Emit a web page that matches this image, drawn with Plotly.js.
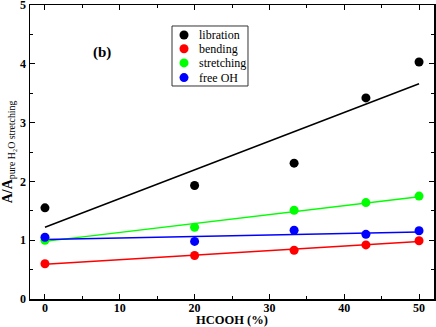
<!DOCTYPE html>
<html>
<head>
<meta charset="utf-8">
<script src="https://cdn.plot.ly/plotly-3.0.1.min.js"></script>
<style>
  body { margin: 0; background: #fff; }
  #chart { width: 436px; height: 327px; }
</style>
</head>
<body>
<div id="chart"></div>
<script>
// HCOOH concentration (%)
var hcooh = [0, 20, 33.3, 42.9, 50];

// Relative areas
var libration = [1.55, 1.93, 2.31, 3.42, 4.03];
var bending = [0.60, 0.74, 0.83, 0.92, 0.99];
var stretching = [1.00, 1.22, 1.51, 1.64, 1.75];
var freeOH = [1.05, 0.98, 1.17, 1.10, 1.16];

// Linear fit lines, values at x = 0 and x = 50
var fitX = [0, 50];
var librationFit = [1.22, 3.66];
var bendingFit = [0.59, 0.98];
var stretchingFit = [0.98, 1.74];
var freeOHFit = [1.01, 1.14];

var names = ["libration", "bending", "stretching", "free OH"];
var colors = ["#000000", "#ff0000", "#00ff00", "#0000ff"];
var series = [libration, bending, stretching, freeOH];
var fits = [librationFit, bendingFit, stretchingFit, freeOHFit];

var data = [];
// fit lines first so the dots sit on top
fits.forEach(function (f, i) {
  data.push({
    x: fitX, y: f, type: "scatter", mode: "lines",
    line: {color: colors[i], width: 1.5},
    showlegend: false, hoverinfo: "skip"
  });
});
series.forEach(function (s, i) {
  data.push({
    x: hcooh, y: s, type: "scatter", mode: "markers", name: names[i],
    marker: {color: colors[i], size: 9},
    showlegend: false
  });
});

var serif = "Liberation Serif";

// legend drawn by hand so the rows can be packed as tight as the original
var shapes = [{
  type: "rect", xref: "paper", yref: "paper",
  x0: 0.3515, x1: 0.5396, y0: 0.7245, y1: 0.9286,
  line: {color: "#333", width: 1}, fillcolor: "#fff", layer: "above"
}];
var annotations = [{
  x: 0.178, y: 0.837, xref: "paper", yref: "paper",
  xanchor: "center", yanchor: "middle",
  text: "<b>(b)</b>", showarrow: false,
  font: {family: serif, size: 15, color: "#000"}
}];
var rowY = [0.898, 0.851, 0.803, 0.753];
names.forEach(function (n, i) {
  shapes.push({
    type: "circle", xref: "paper", yref: "paper",
    xsizemode: "pixel", ysizemode: "pixel",
    xanchor: 0.3812, yanchor: rowY[i],
    x0: -4.5, x1: 4.5, y0: -4.5, y1: 4.5,
    fillcolor: colors[i], line: {color: colors[i], width: 0}, layer: "above"
  });
  annotations.push({
    x: 0.413, y: rowY[i], xref: "paper", yref: "paper",
    xanchor: "left", yanchor: "middle", showarrow: false,
    text: n, font: {family: serif, size: 12, color: "#000"}
  });
});

var layout = {
  width: 436, height: 327,
  margin: {l: 30, r: 2, t: 5, b: 28},
  paper_bgcolor: "#fff", plot_bgcolor: "#fff",
  font: {family: serif, color: "#000"},
  showlegend: false,
  xaxis: {
    range: [-2, 52], dtick: 10, tick0: 0,
    ticks: "inside", ticklen: 5, tickcolor: "#000",
    minor: {dtick: 5, ticks: "inside", ticklen: 3, tickcolor: "#000"},
    showline: true, linecolor: "#000", linewidth: 1.5, mirror: "ticks",
    showgrid: false, zeroline: false, ticklabeloverflow: "allow",
    ticklabelstandoff: -3,
    tickfont: {family: serif, size: 12, color: "#000", weight: "bold"},
    title: {text: "<b>HCOOH (%)</b>", font: {family: serif, size: 12.5, color: "#000"}, standoff: 4}
  },
  yaxis: {
    range: [0, 5], dtick: 1,
    ticks: "inside", ticklen: 5, tickcolor: "#000",
    minor: {dtick: 0.5, ticks: "inside", ticklen: 3, tickcolor: "#000"},
    showline: true, linecolor: "#000", linewidth: 1.5, mirror: "ticks",
    showgrid: false, zeroline: false, ticklabeloverflow: "allow",
    tickfont: {family: serif, size: 12, color: "#000", weight: "bold"},
    title: {text: "<b>A/A</b><sub>pure H₂O stretching</sub>", font: {family: serif, size: 14, color: "#000"}, standoff: 4}
  },
  shapes: shapes,
  annotations: annotations
};

Plotly.newPlot("chart", data, layout, {displayModeBar: false, staticPlot: true});
</script>
</body>
</html>
